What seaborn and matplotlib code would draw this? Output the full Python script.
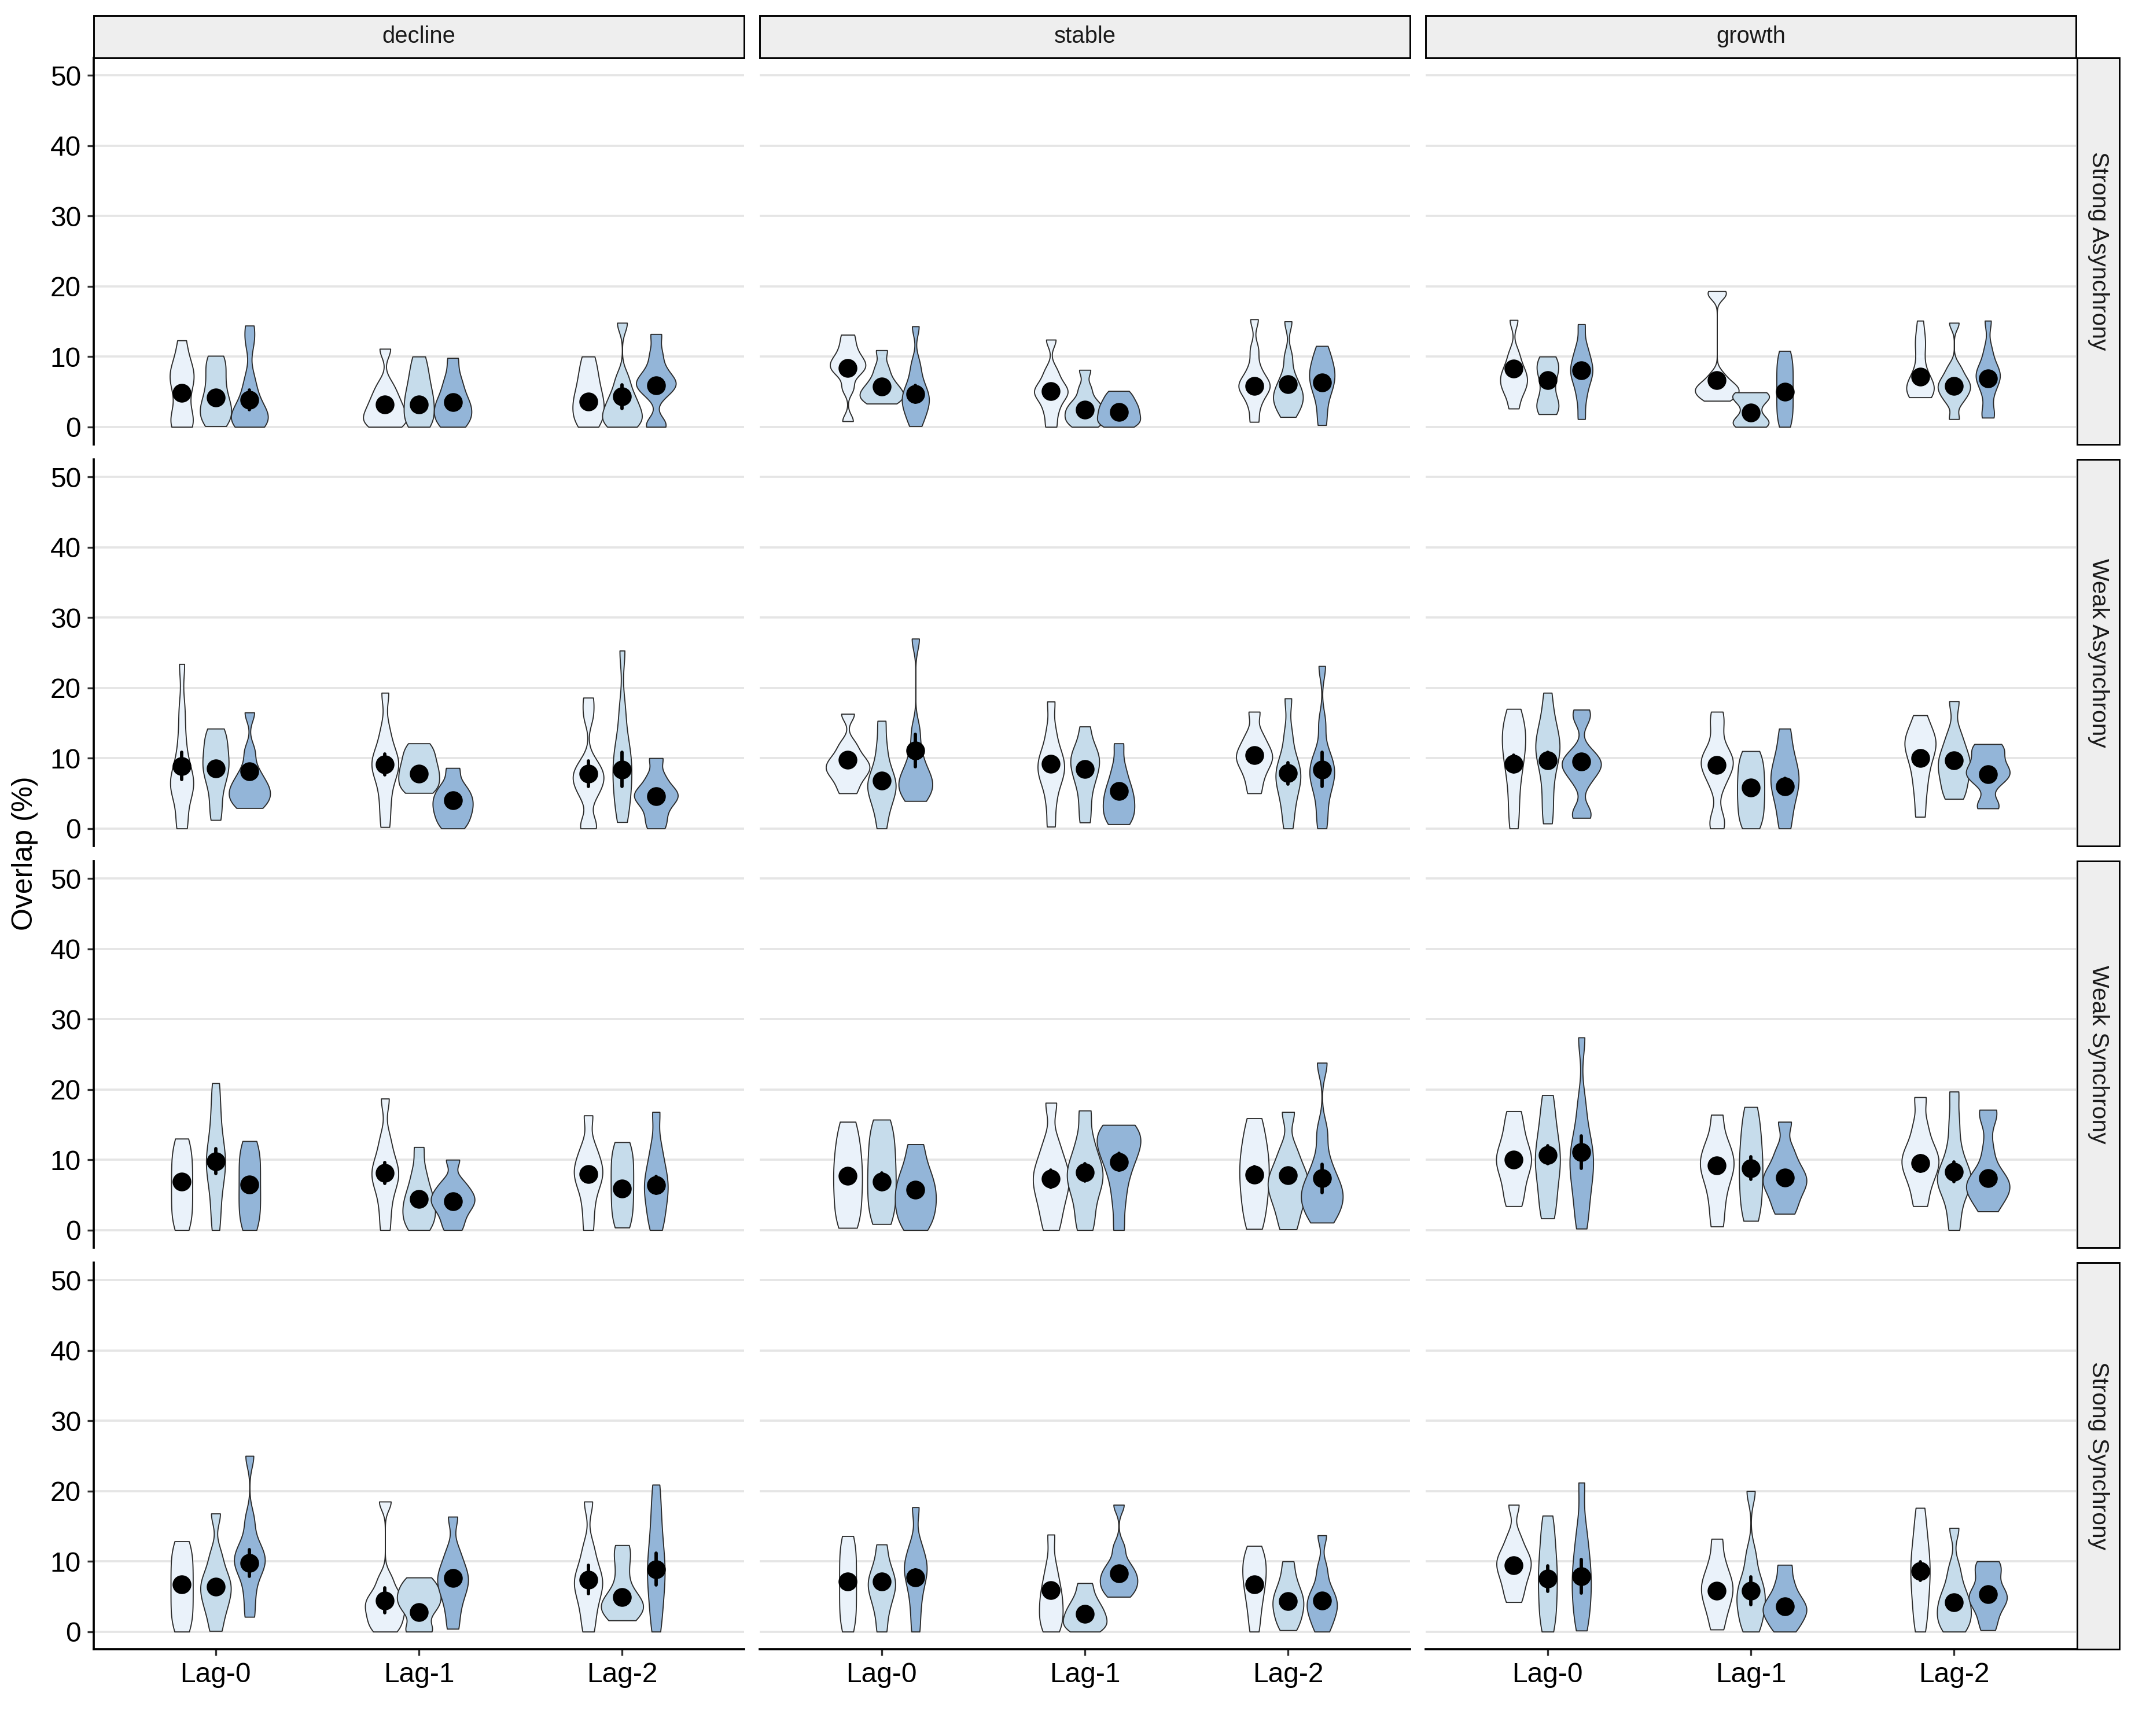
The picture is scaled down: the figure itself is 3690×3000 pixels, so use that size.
import numpy as np
import pandas as pd
import matplotlib
matplotlib.use("Agg")
import matplotlib.pyplot as plt
from matplotlib.patches import Rectangle
import seaborn as sns

sns.set_theme(style="white")
plt.rcParams['font.family'] = ['Liberation Sans', 'DejaVu Sans']

# ---------------- data ----------------
trends = ["decline", "stable", "growth"]
syncs = ["Strong Asynchrony", "Weak Asynchrony", "Weak Synchrony", "Strong Synchrony"]
lags = ["Lag-0", "Lag-1", "Lag-2"]
groups = ["low", "mid", "high"]
fills = ["#EAF2FA", "#C6DCEB", "#93B5D8"]

# observations per violin, order: Lag-0 (low, mid, high), Lag-1 (...), Lag-2 (...)
vals_strong_asynchrony = [
    [[0, 0.3, 0.8, 2.5, 5, 6.5, 7.2, 8, 9.5, 12.3],
     [0.1, 1, 1.8, 2.5, 3.5, 4.5, 6, 7.5, 9, 10.1],
     [0, 0.4, 0.8, 1.2, 1.8, 2.5, 3.5, 5, 7, 12, 14.4],
     [0, 0.5, 1, 1.8, 2.5, 3.5, 4.5, 6, 11.1],
     [0, 0.8, 1.8, 3, 4, 5, 6.5, 8, 10],
     [0, 0.8, 1.5, 2.5, 3.2, 4, 5.5, 7, 9.8],
     [0, 1, 2, 3, 4, 5, 6.5, 8, 10],
     [0, 0.5, 1.2, 2, 2.8, 3.8, 5, 7, 14.8],
     [0, 0.5, 4.5, 5.5, 6, 6.5, 7.2, 8.5, 10.5, 13.2]],
    [[0.8, 5.5, 7.5, 8.2, 8.8, 9.4, 10.2, 11.5, 13.1],
     [3.3, 3.8, 4.3, 4.8, 5.3, 6, 7, 8.5, 10.9],
     [0.1, 1.5, 2.5, 3.3, 4, 4.8, 5.5, 7, 9, 14.3],
     [0, 2, 3.5, 4.5, 5, 5.5, 6.5, 8, 12.4],
     [0, 0.6, 1.2, 1.8, 2.4, 3, 3.8, 5.5, 8.1],
     [0, 0.5, 1, 1.6, 2.2, 2.8, 3.4, 4.2, 5.1],
     [0.7, 3, 4.5, 5.3, 5.8, 6.3, 7, 8.5, 11, 15.3],
     [1.4, 2.5, 3.3, 4, 4.6, 5.3, 6.2, 7.5, 10, 15],
     [0.25, 2.5, 4.5, 5.5, 6.5, 7.3, 8, 9, 10, 11.5]],
    [[2.6, 4.5, 5.5, 6.3, 7, 7.8, 8.8, 10.5, 15.2],
     [1.8, 2.5, 3.2, 4, 6, 7.5, 8.3, 9.2, 10],
     [1.1, 4, 6, 7.2, 8, 8.8, 10, 11.5, 14.6],
     [3.7, 4.2, 4.7, 5.1, 5.5, 5.9, 6.4, 7.5, 18.7, 19.3],
     [0, 0.3, 0.7, 1.2, 2.5, 3.8, 4.2, 4.6, 4.9],
     [0, 1.3, 2.7, 4, 5.4, 6.8, 8.1, 9.5, 10.8],
     [4.2, 4.6, 5, 5.4, 5.8, 6.3, 7, 9, 11.5, 12.5, 15.1],
     [1.1, 3.5, 4.5, 5.2, 5.8, 6.4, 7.2, 8.5, 14.8],
     [1.3, 2, 4.5, 6, 6.8, 7.4, 8, 9, 11, 15.1]],
]
vals_weak_asynchrony = [
    [[0, 1, 4.5, 5.5, 6.2, 7, 8, 10, 13, 17, 23.4],
     [1.2, 3.5, 6, 7.5, 8.5, 9.5, 10.5, 12, 13.2, 14.2],
     [2.9, 3.6, 4.3, 5, 5.6, 6.3, 7.2, 8.5, 11, 16.5],
     [0.2, 3, 5.5, 7.5, 8.5, 9.3, 10.2, 11.5, 14, 19.3],
     [5.05, 5.8, 6.6, 7.4, 8.2, 9, 10, 11, 12.1],
     [0, 1, 2, 2.8, 3.6, 4.4, 5.2, 6.3, 8.6],
     [0, 0.6, 4.5, 5.8, 6.8, 7.5, 8.3, 9.5, 16, 18.6],
     [0.9, 3, 5, 6.5, 8, 9.5, 11, 13, 17, 25.3],
     [0, 1.5, 3, 4, 4.6, 5.2, 6, 7.5, 10]],
    [[5, 6.5, 7.6, 8.3, 8.9, 9.6, 10.5, 12, 16.3],
     [0, 2.5, 4, 5.2, 6, 6.8, 7.8, 9.5, 12, 15.3],
     [3.9, 4.8, 5.6, 6.3, 7, 7.8, 9, 11, 14, 27],
     [0.25, 3.5, 6, 7.3, 8.3, 9.2, 10.2, 11.5, 14, 18.05],
     [0.85, 3.5, 6, 7.5, 8.7, 9.7, 10.6, 11.8, 14.5],
     [0.6, 1.5, 2.5, 3.5, 4.5, 5.5, 6.8, 8.8, 12.1],
     [5, 7, 8.5, 9.5, 10.2, 11, 12, 13.5, 16.6],
     [0, 2.5, 4.5, 6, 7, 8, 9, 10.5, 13.5, 18.5],
     [0, 2.5, 5, 6.5, 7.5, 8.5, 9.5, 11, 15, 23.1]],
    [[0, 3, 6, 8.5, 10, 11.5, 12.8, 14, 15.3, 17],
     [0.7, 3.5, 6.5, 9, 10.5, 11.5, 12.5, 14, 16, 19.3],
     [1.5, 2.5, 6.5, 8, 8.7, 9.3, 10, 11, 15.5, 16.9],
     [0, 1.5, 6, 7.8, 8.8, 9.5, 10.3, 11.5, 14.5, 16.6],
     [0, 1.4, 2.8, 4.2, 5.5, 6.8, 8.2, 9.6, 11],
     [0, 2.5, 4.5, 5.8, 7, 8.2, 9.5, 11.5, 14.2],
     [1.65, 5, 7.5, 9.5, 11, 12, 12.8, 13.8, 16.1],
     [4.2, 5.5, 7, 8.2, 9.2, 10.2, 11.5, 13.5, 18.1],
     [2.85, 3.5, 6.5, 7.3, 7.8, 8.4, 9.2, 10.5, 11.5, 12]],
]
vals_weak_synchrony = [
    [[0, 1.6, 3.2, 4.8, 6.4, 8, 9.6, 11.2, 13],
     [0, 3, 6, 8, 9.3, 10.5, 12, 14.5, 17.5, 20.9],
     [0, 1.6, 3.2, 4.7, 6.3, 7.9, 9.5, 11, 12.65],
     [0, 3, 5.5, 7, 8, 9, 10.5, 13, 18.7],
     [0, 1, 2, 3, 4, 5, 6.5, 8.5, 11.8],
     [0, 1.5, 2.8, 3.6, 4.3, 5, 5.8, 7, 10],
     [0, 3, 5.5, 7, 8, 9, 10.2, 12, 16.3],
     [0.35, 1.9, 3.5, 5, 6.5, 8, 9.5, 11, 12.5],
     [0, 2, 3.8, 5.3, 6.5, 7.8, 9.5, 12, 16.8]],
    [[0.3, 2, 4, 5.8, 7.5, 9.2, 11, 13, 15.4],
     [0.85, 2.7, 4.5, 6.3, 8, 9.8, 11.7, 13.6, 15.7],
     [0, 1.5, 2.8, 4, 5.2, 6.4, 7.7, 9.5, 12.2],
     [0, 2.5, 4.5, 6, 7.3, 8.5, 10, 12.5, 18.1],
     [0, 2.5, 5, 6.5, 7.8, 9, 10.5, 13, 17],
     [0, 4, 7, 9, 10.5, 11.5, 12.5, 13.5, 14.3, 14.95],
     [0.15, 2.5, 4.5, 6.3, 8, 9.6, 11.3, 13.3, 15.9],
     [0.1, 2.5, 4.3, 5.6, 6.7, 7.8, 9.2, 11.5, 16.8],
     [1.05, 2.5, 3.6, 4.6, 5.5, 6.5, 7.8, 10, 14, 23.8]],
    [[3.4, 5.5, 7.5, 9, 10, 11, 12.5, 14.5, 16.9],
     [1.65, 4, 6.5, 8.5, 10, 11.5, 13.5, 16, 19.2],
     [0.2, 3, 5.5, 7.5, 9, 10.5, 12, 14, 18, 27.4],
     [0.5, 3.5, 6, 7.8, 9, 10, 11.3, 13, 16.4],
     [1.3, 3.3, 5.3, 7.3, 9, 10.8, 12.8, 15, 17.5],
     [2.3, 4, 5.5, 6.5, 7.3, 8.2, 9.5, 11.5, 15.4],
     [3.4, 6, 7.8, 9, 10, 11, 12.5, 15, 18.9],
     [0, 3, 5.5, 6.5, 7.3, 8.2, 9.5, 12, 15.5, 19.7],
     [2.65, 4.3, 5.3, 6, 6.6, 7.3, 8.3, 11.5, 16.2, 17.1]],
]
vals_strong_synchrony = [
    [[0, 1.6, 3.2, 4.8, 6.4, 8, 9.6, 11.2, 12.85],
     [0.1, 2.5, 4, 5.3, 6.3, 7.3, 8.6, 11, 16.8],
     [2.1, 5, 7.5, 9, 9.8, 10.6, 11.5, 13, 16, 25],
     [0, 1, 2, 3, 3.8, 4.6, 5.5, 7.5, 18.5],
     [0, 0.3, 2.5, 3.5, 4.3, 5, 5.8, 6.7, 7.7],
     [0.4, 3, 5, 6.3, 7.3, 8.3, 9.5, 11.5, 16.35],
     [0, 2.5, 4.5, 6, 7, 8, 9.5, 12, 18.5],
     [1.6, 2.5, 3.1, 3.6, 4.1, 4.8, 6, 8.5, 10.8, 12.3],
     [0, 2.5, 5, 7, 8.5, 10, 12, 14.5, 17.5, 20.9]],
    [[0, 1.7, 3.4, 5.1, 6.8, 8.5, 10.2, 11.9, 13.6],
     [0, 2.5, 4.3, 5.5, 6.5, 7.4, 8.4, 10, 12.4],
     [0, 3, 5.5, 7.3, 8.5, 9.5, 10.6, 12.5, 17.7],
     [0, 1, 2.2, 3.4, 4.6, 5.8, 7.3, 9.5, 13.8],
     [0, 0.6, 1.2, 1.8, 2.5, 3.2, 4, 5.2, 6.9],
     [4.95, 5.8, 6.6, 7.3, 8, 8.8, 9.8, 12, 18.05],
     [0, 2.5, 4.5, 6, 7.3, 8.5, 9.6, 10.8, 12.2],
     [0.2, 1.5, 2.5, 3.5, 4.3, 5.2, 6.2, 7.8, 10],
     [0, 1.5, 2.6, 3.5, 4.3, 5.2, 6.5, 9, 13.7]],
    [[4.2, 6, 7.5, 8.7, 9.6, 10.5, 11.5, 13.5, 18.05],
     [0, 2, 4, 6, 7.8, 9.5, 11.5, 14, 16.5],
     [0.15, 2.5, 4.5, 6.3, 8, 9.8, 12, 15, 21.2],
     [0.3, 2.5, 4, 5.2, 6.2, 7.2, 8.4, 10.3, 13.2],
     [0, 1.5, 3, 4.2, 5.3, 6.5, 8, 11, 20],
     [0, 1.2, 2.2, 2.9, 3.6, 4.4, 5.5, 7.2, 9.5],
     [0, 2.5, 4.8, 6.8, 8.5, 10.2, 12, 14.5, 17.6],
     [0, 1, 2, 3, 4, 5, 6.5, 9, 14.75],
     [0.2, 1.8, 3.5, 4.3, 4.9, 5.5, 6.3, 8.3, 9.3, 10]],
]

# group means and error half-widths (per trend; Lag-0 low/mid/high, Lag-1 ..., Lag-2 ...)
mean_strong_asynchrony = [[4.8, 4.2, 3.8, 3.2, 3.2, 3.5, 3.6, 4.3, 5.9],
                          [8.4, 5.7, 4.7, 5.1, 2.4, 2.1, 5.8, 6.1, 6.35],
                          [8.3, 6.6, 8.0, 6.6, 2.0, 5.0, 7.1, 5.8, 6.9]]
err_strong_asynchrony = [[0.7, 0.5, 1.4, 0.5, 0.5, 0.6, 0.6, 1.7, 0.7],
                         [0.5, 0.4, 1.2, 0.6, 0.5, 0.4, 0.8, 0.6, 0.9],
                         [0.6, 0.5, 0.7, 0.6, 0.4, 0.6, 0.6, 0.5, 0.6]]
mean_weak_asynchrony = [[8.9, 8.5, 8.1, 9.1, 7.8, 4.0, 7.8, 8.4, 4.6],
                        [9.8, 6.8, 11.1, 9.2, 8.45, 5.3, 10.4, 7.85, 8.4],
                        [9.2, 9.7, 9.5, 9.0, 5.8, 6.0, 10.0, 9.7, 7.7]]
err_weak_asynchrony = [[1.9, 0.6, 0.9, 1.5, 0.5, 0.6, 1.8, 2.4, 0.6],
                       [0.6, 0.9, 2.3, 0.9, 0.6, 0.6, 0.6, 1.5, 2.4],
                       [1.2, 1.1, 0.9, 0.9, 0.9, 1.1, 0.8, 0.9, 0.7]]
mean_weak_synchrony = [[6.9, 9.8, 6.5, 8.1, 4.4, 4.1, 7.95, 5.9, 6.4],
                       [7.7, 6.9, 5.7, 7.3, 8.2, 9.7, 7.9, 7.8, 7.35],
                       [10.0, 10.7, 11.1, 9.2, 8.8, 7.5, 9.5, 8.3, 7.35]]
err_weak_synchrony = [[1.0, 1.8, 0.8, 1.5, 0.8, 0.8, 1.0, 1.0, 1.2],
                      [1.1, 1.2, 0.8, 1.2, 1.2, 1.2, 1.1, 1.0, 2.0],
                      [0.9, 1.3, 2.3, 0.9, 1.6, 0.8, 1.1, 1.4, 0.8]]
mean_strong_synchrony = [[6.7, 6.4, 9.75, 4.45, 2.75, 7.6, 7.4, 4.9, 8.9],
                         [7.1, 7.1, 7.7, 5.9, 2.5, 8.3, 6.7, 4.3, 4.4],
                         [9.4, 7.55, 7.9, 5.8, 5.8, 3.6, 8.6, 4.2, 5.35]]
err_strong_synchrony = [[0.9, 0.8, 1.9, 1.8, 0.5, 1.0, 2.0, 0.6, 2.3],
                        [1.0, 0.7, 1.1, 1.0, 0.4, 0.8, 0.6, 0.7, 1.0],
                        [0.6, 1.8, 2.4, 0.8, 2.0, 0.6, 1.3, 0.8, 0.6]]

row_vals = [vals_strong_asynchrony, vals_weak_asynchrony, vals_weak_synchrony, vals_strong_synchrony]
row_means = [mean_strong_asynchrony, mean_weak_asynchrony, mean_weak_synchrony, mean_strong_synchrony]
row_errs = [err_strong_asynchrony, err_weak_asynchrony, err_weak_synchrony, err_strong_synchrony]


def nrd0(kde):
    x = np.asarray(kde.dataset).ravel()
    sd = x.std(ddof=1)
    q75, q25 = np.percentile(x, [75, 25])
    lo = min(sd, (q75 - q25) / 1.34)
    if lo <= 0:
        lo = sd
    return 0.9 * lo * len(x) ** -0.2 / sd


# ---------------- layout ----------------
W, H = 3690, 3000
fig = plt.figure(figsize=(W / 300, H / 300), dpi=300)
col_left = [162, 1313, 2464]
pw = 1124
row_top = [100, 794, 1488, 2182]
ph = 668

for r, sync in enumerate(syncs):
    for c, trend in enumerate(trends):
        ax = fig.add_axes([col_left[c] / W, 1 - (row_top[r] + ph) / H, pw / W, ph / H])
        recs = []
        mrecs = []
        k = 0
        for lag in lags:
            for g in groups:
                for v in row_vals[r][c][k]:
                    recs.append((lag, g, v))
                m, e = row_means[r][c][k], row_errs[r][c][k]
                mrecs.append((lag, g, m - e))
                mrecs.append((lag, g, m + e))
                k += 1
        df = pd.DataFrame(recs, columns=["lag", "grp", "val"])
        mdf = pd.DataFrame(mrecs, columns=["lag", "grp", "val"])

        sns.violinplot(data=df, x="lag", y="val", hue="grp", order=lags, hue_order=groups,
                       palette=fills, saturation=1, width=0.5, gap=-0.29, dodge=True,
                       cut=0, inner=None, density_norm="area", common_norm=True,
                       bw_method=nrd0, bw_adjust=0.8, linewidth=0.45, linecolor="#2a2a2a",
                       legend=False, ax=ax)
        sns.pointplot(data=mdf, x="lag", y="val", hue="grp", order=lags, hue_order=groups,
                      palette=["black"] * 3, estimator="mean", errorbar=("pi", 100),
                      dodge=1 / 3, markers="o", linestyle="none", markersize=7.8,
                      markeredgewidth=0, err_kws={"linewidth": 1.4}, legend=False, ax=ax)

        ax.set_xlim(-0.6, 2.6)
        ax.set_ylim(-2.5, 52.5)
        ax.set_yticks([0, 10, 20, 30, 40, 50])
        ax.set_xlabel("")
        ax.set_ylabel("")
        ax.set_axisbelow(True)
        ax.yaxis.grid(True, color="#E5E5E5", linewidth=0.9)
        ax.xaxis.grid(False)
        ax.set_facecolor("white")
        for s in ["top", "right", "left", "bottom"]:
            ax.spines[s].set_visible(False)
        if c == 0:
            ax.spines["left"].set_visible(True)
            ax.spines["left"].set_color("black")
            ax.spines["left"].set_linewidth(0.9)
        if r == 3:
            ax.spines["bottom"].set_visible(True)
            ax.spines["bottom"].set_color("black")
            ax.spines["bottom"].set_linewidth(0.9)
        ax.tick_params(axis="y", left=(c == 0), labelleft=(c == 0), length=2.75, width=0.8,
                       color="#333333", labelsize=11.5, labelcolor="black", pad=2.5)
        ax.tick_params(axis="x", bottom=(r == 3), labelbottom=(r == 3), length=2.75, width=0.8,
                       color="#333333", labelsize=11.5, labelcolor="black", pad=2.5)

        # top strips
        if r == 0:
            fig.add_artist(Rectangle((col_left[c] / W, 1 - 100 / H), pw / W, 73 / H,
                                     transform=fig.transFigure, facecolor="#EEEEEE",
                                     edgecolor="black", linewidth=0.7))
            fig.text((col_left[c] + pw / 2) / W, 1 - 63 / H, trend, ha="center", va="center",
                     fontsize=9.6, color="#1a1a1a")
    # right strips
    fig.add_artist(Rectangle((3590 / W, 1 - (row_top[r] + ph) / H), 73 / W, ph / H,
                             transform=fig.transFigure, facecolor="#EEEEEE",
                             edgecolor="black", linewidth=0.7))
    fig.text(3627 / W, 1 - (row_top[r] + ph / 2) / H, sync, ha="center", va="center",
             rotation=270, fontsize=9.8, color="#1a1a1a")

fig.text(43 / W, 1 - 1475 / H, "Overlap (%)", rotation=90, ha="center", va="center",
         fontsize=12, color="black")

fig.savefig("out.png", dpi=300, facecolor="white")
